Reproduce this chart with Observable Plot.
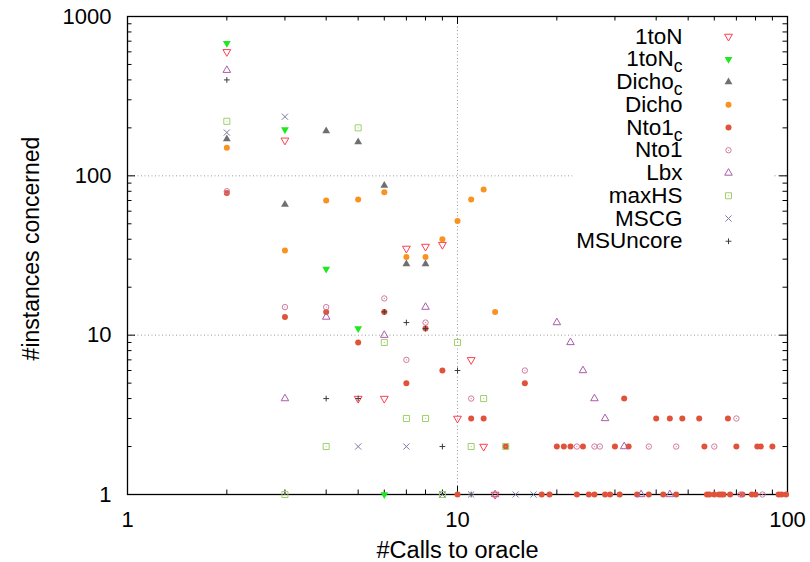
<!DOCTYPE html>
<html><head><meta charset="utf-8">
<script src="https://cdn.jsdelivr.net/npm/d3@7"></script>
<script src="https://cdn.jsdelivr.net/npm/@observablehq/plot@0.6"></script>
<style>body{margin:0;background:#fff}</style>
</head><body><div id="chart"></div>
<script>
// ---- data: [#calls to oracle, #instances] ----
const oneToN = [[2,600],[3,167],[5,4],[6,4],[7,35],[8,36],[9,37],[10,3],[11,7],[12,2],[13,1]];
const oneToNc = [[2,680],[3,195],[4,26],[5,11],[6,1]];
const dichoC = [[2,170],[3,66],[4,191],[5,163],[6,87],[7,28],[8,28]];
const dicho = [[2,150],[3,34],[4,70],[5,71],[6,79],[7,31],[8,31],[9,40],[10,52],[11,71],[12,82],[13,14]];
const nto1C = [[2,78],[3,13],[4,14],[5,9],[6,14],[7,5],[8,11],[9,6],[10,1],[11,3],[12,3],[14,2],[16,5],
  [18,1],[19,1],[20,2],[21,2],[22,2],[24,2],[30,2],[32,4],[33,2],[40,3],[44,3],[48,3],[54,3],[66,3],
  [56,2],[70,2],[81,2],[83,2],[90,2],[23,1],[25,1],[26,1],[28,1],[29,1],[31,1],[35,1],[38,1],[42,1],
  [46,1],[57,1],[58,1],[60,1],[62,1],[63,1],[64,1],[67,1],[73,1],[78,1],[80,1],[94,1],[96,1],[99,1]];
const nto1 = [[2,80],[3,15],[4,15],[6,17],[7,7],[8,12],[11,4],[16,6],[23,2],[26,2],[27,2],[38,2],[46,2],[60,2],[70,3],[72,1],[84,1]];
const lbx = [[2,460],[3,4],[4,13],[6,10],[8,15],[13,1],[20,12],[22,9],[24,6],[26,4],[28,3],[32,2],[36,1],[44,1]];
const maxHS = [[2,220],[3,1],[4,2],[5,200],[6,9],[7,3],[8,3],[9,1],[10,9],[11,2],[12,4],[14,2]];
const mscg = [[2,187],[3,235],[5,2],[7,2],[9,1],[11,1],[15,1],[17,1]];
const msUncore = [[2,400],[4,4],[5,4],[6,14],[7,12],[8,11],[9,2],[10,6],[11,1]];

const seriesNames = ["1toN","1toN_c","Dicho_c","Dicho","Nto1_c","Nto1","Lbx","maxHS","MSCG","MSUncore"];
const seriesData = [oneToN, oneToNc, dichoC, dicho, nto1C, nto1, lbx, maxHS, mscg, msUncore];

const xTickLabels = [1, 10, 100];
const yTickLabels = [1, 10, 100, 1000];
const xMinorTicks = [2,3,4,5,6,7,8,9,20,30,40,50,60,70,80,90];
const yMinorTicks = [2,3,4,5,6,7,8,9,20,30,40,50,60,70,80,90,200,300,400,500,600,700,800,900];

// ---- styles ----
const markStyles = [
  {symbol:"triangle", rotate:180, r:2.9, fill:"none", stroke:"#ff3d4f", strokeWidth:1},
  {symbol:"triangle", rotate:180, r:2.9, fill:"#1ee81e", stroke:"none"},
  {symbol:"triangle", r:2.9, fill:"#6f6f6f", stroke:"none"},
  {symbol:"circle", r:3, fill:"#f7931e", stroke:"none"},
  {symbol:"circle", r:3, fill:"#e0533a", stroke:"none"},
  {symbol:"circle", r:2.7, fill:"none", stroke:"#d3789f", strokeWidth:1},
  {symbol:"triangle", r:2.8, fill:"none", stroke:"#aa5caa", strokeWidth:1},
  {symbol:"square", r:3.4, fill:"none", stroke:"#9fcf6a", strokeWidth:1},
  {symbol:"times", r:2.9, fill:"none", stroke:"#7a7aa6", strokeWidth:1},
  {symbol:"plus", r:2.0, fill:"none", stroke:"#3c3c3c", strokeWidth:1}
];
const centerDot = [false,false,false,false,false,true,false,true,false,false];

const W = 810, H = 562;
const mL = 127, mR = 23, mT = 16, mB = 68;
const pw = W - mL - mR, ph = H - mT - mB;
const majorLen = 8, minorLen = 4.5;
const gridStyle = {stroke:"#9a9a9a", strokeDasharray:"1,2.5", strokeWidth:1};
const tickStyle = {stroke:"black", strokeWidth:1};

const marks = [];
// grid
marks.push(Plot.ruleX([10], {x: d => d, ...gridStyle}));
marks.push(Plot.ruleY([10, 100], {y: d => d, ...gridStyle}));
// legend background box
marks.push(Plot.frame({fill:"white", stroke:null, insetLeft: 572 - mL, insetRight: 14, insetTop: 3, insetBottom: (H - mB) - 256}));
// ticks on all four sides (inward)
for (const [vals, len] of [[xTickLabels, majorLen], [xMinorTicks, minorLen]]) {
  marks.push(Plot.ruleX(vals, {x: d => d, insetTop: ph - len, ...tickStyle}));
  marks.push(Plot.ruleX(vals, {x: d => d, insetBottom: ph - len, ...tickStyle}));
}
for (const [vals, len] of [[yTickLabels, majorLen], [yMinorTicks, minorLen]]) {
  marks.push(Plot.ruleY(vals, {y: d => d, insetRight: pw - len, ...tickStyle}));
  marks.push(Plot.ruleY(vals, {y: d => d, insetLeft: pw - len, ...tickStyle}));
}
marks.push(Plot.frame({stroke:"black", strokeWidth:1.3}));

// data points
seriesData.forEach((data, i) => {
  marks.push(Plot.dot(data, {x: d => d[0], y: d => d[1], ...markStyles[i]}));
  if (centerDot[i]) marks.push(Plot.dot(data, {x: d => d[0], y: d => d[1], r: 0.6, fill: markStyles[i].stroke, stroke: "none"}));
});

// legend
seriesNames.forEach((name, i) => {
  const dy = 20 + 22.75 * i;
  marks.push(Plot.text([name], {text: d => d, frameAnchor: "top-right", dx: -105, dy, textAnchor: "end", lineAnchor: "middle", fontSize: 22.5, fill: "black"}));
  marks.push(Plot.dot([name], {frameAnchor: "top-right", dx: -59, dy, ...markStyles[i]}));
  if (centerDot[i]) marks.push(Plot.dot([name], {frameAnchor: "top-right", dx: -59, dy, r: 0.6, fill: markStyles[i].stroke, stroke: "none"}));
});

// axes labels
marks.push(Plot.axisX(xTickLabels, {tickSize: 0, tickPadding: 17, tickFormat: d => String(d), label: null, fontSize: 22}));
marks.push(Plot.axisY(yTickLabels, {tickSize: 0, tickPadding: 16, tickFormat: d => String(d), label: null, fontSize: 22}));
marks.push(Plot.text(["#Calls to oracle"], {text: d => d, frameAnchor: "bottom", dy: 56, lineAnchor: "middle", textAnchor: "middle", fontSize: 23.5, fill: "black"}));
marks.push(Plot.text(["#instances concerned"], {text: d => d, frameAnchor: "left", dx: -96, dy: -7, rotate: -90, textAnchor: "middle", lineAnchor: "middle", fontSize: 23, fill: "black"}));

const chart = Plot.plot({
  width: W, height: H,
  marginLeft: mL, marginRight: mR, marginTop: mT, marginBottom: mB,
  x: {type: "log", domain: [1, 100]},
  y: {type: "log", domain: [1, 1000]},
  style: {fontFamily: "'Liberation Sans', Arial, Helvetica, sans-serif", fontSize: "22px", background: "white", color: "black"},
  marks
});

// subscript "c" in legend
d3.select(chart).selectAll("text").each(function() {
  const t = this.textContent;
  if (t.endsWith("_c")) {
    const el = d3.select(this);
    el.text(t.slice(0, -2));
    el.append("tspan").attr("dy", "0.33em").attr("font-size", "0.78em").text("c");
  }
});

document.getElementById("chart").appendChild(chart);
</script>
</body></html>
